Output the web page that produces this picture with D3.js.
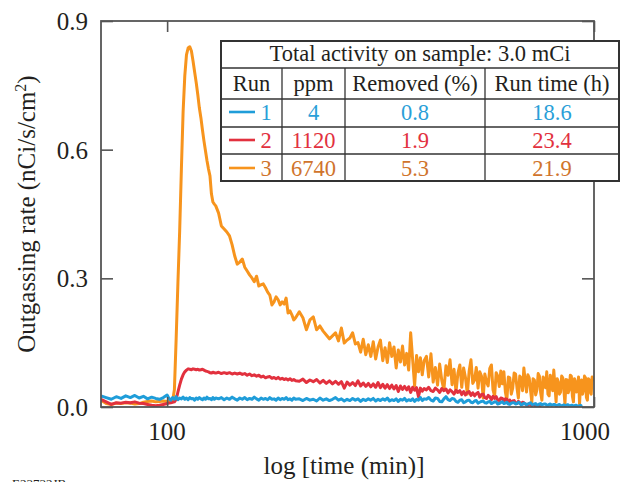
<!DOCTYPE html>
<html lang="en">
<head>
<meta charset="UTF-8"/>
<title>Outgassing rate</title>
<script src="https://d3js.org/d3.v7.min.js"></script>
<style>
  body { margin: 0; background: #fff; }
  text { font-family: "Liberation Serif", "Times New Roman", serif; fill: #231f20; }
</style>
</head>
<body>
<div id="chart"></div>
<script>
// time grid (min), shared by all runs
var times = [
  70, 72, 74, 76, 78, 80, 82, 84, 86, 88, 90, 92, 94, 96, 98, 100,
  101, 102, 103, 104, 105, 106, 107, 108, 109, 110, 111, 112, 113, 114, 115,
  116, 117, 118, 119, 120, 121, 122, 123, 124, 125, 126, 127, 128, 129, 130,
  132, 134, 136, 138, 140, 142, 144, 146, 148, 150, 152, 154, 156, 158, 160,
  162, 164, 166, 168, 170, 172, 174, 176, 178, 180, 182, 184, 186, 188, 190,
  192, 194, 196, 198, 200,
  204, 208, 212, 216, 220, 224, 228, 232, 236, 240, 244, 248, 252, 256, 260,
  264, 268, 272, 276, 280, 284, 288, 292, 296, 300, 304, 308, 312, 316, 320,
  324, 328, 332, 336, 340, 344, 348, 352, 356, 360, 364, 368, 372, 376, 380,
  384, 388, 392, 396, 400,
  405, 410, 415, 420, 425, 430, 435, 440, 445, 450,
  455, 460, 465, 470, 475, 480, 485, 490, 495, 500,
  505, 510, 515, 520, 525, 530, 535, 540, 545, 550,
  555, 560, 565, 570, 575, 580, 585, 590, 595, 600,
  605, 610, 615, 620, 625, 630, 635, 640, 645, 650,
  655, 660, 665, 670, 675, 680, 685, 690, 695, 700,
  705, 710, 715, 720, 725, 730, 735, 740, 745, 750,
  755, 760, 765, 770, 775, 780, 785, 790, 795, 800,
  805, 810, 815, 820, 825, 830, 835, 840, 845, 850,
  855, 860, 865, 870, 875, 880, 885, 890, 895, 900,
  905, 910, 915, 920, 925, 930, 935, 940, 945, 950,
  955, 960, 965, 970, 975, 980, 985, 990, 995, 1000
];

// run 1 (4 ppm), ends ~940 min
var run1 = [
  0.026, 0.022, 0.018, 0.024, 0.020, 0.026, 0.022, 0.027, 0.021, 0.025, 0.019, 0.023, 0.020, 0.018, 0.022, 0.028,
  0.020, 0.016, 0.022, 0.018, 0.024, 0.017, 0.021, 0.019, 0.023, 0.018, 0.021, 0.017, 0.022, 0.019, 0.020,
  0.016, 0.021, 0.018, 0.022, 0.019, 0.017, 0.021, 0.018, 0.023, 0.019, 0.020, 0.017, 0.022, 0.018, 0.021,
  0.019, 0.022, 0.017, 0.021, 0.018, 0.023, 0.019, 0.016, 0.021, 0.018, 0.022, 0.017, 0.020, 0.018, 0.023,
  0.019, 0.016, 0.021, 0.018, 0.020, 0.017, 0.022, 0.018, 0.019, 0.016, 0.021, 0.017, 0.020, 0.018, 0.022,
  0.017, 0.019, 0.016, 0.021, 0.018,
  0.019, 0.015, 0.020, 0.016, 0.018, 0.014, 0.021, 0.016, 0.019, 0.015, 0.018, 0.022, 0.016, 0.019, 0.014,
  0.018, 0.015, 0.020, 0.016, 0.019, 0.013, 0.018, 0.015, 0.019, 0.016, 0.020, 0.014, 0.018, 0.015, 0.019,
  0.016, 0.021, 0.014, 0.017, 0.015, 0.019, 0.013, 0.018, 0.016, 0.020, 0.014, 0.017, 0.015, 0.019, 0.013,
  0.018, 0.016, 0.022, 0.015, 0.019,
  0.018, 0.022, 0.016, 0.014, 0.021, 0.020, 0.013, 0.012, 0.019, 0.024,
  0.017, 0.015, 0.020, 0.019, 0.013, 0.011, 0.016, 0.017, 0.010, 0.012,
  0.015, 0.016, 0.011, 0.010, 0.014, 0.015, 0.009, 0.011, 0.013, 0.014,
  0.010, 0.009, 0.012, 0.013, 0.008, 0.010, 0.012, 0.012, 0.007, 0.008,
  0.011, 0.012, 0.008, 0.009, 0.011, 0.007, 0.006, 0.009, 0.010, 0.010,
  0.007, 0.008, 0.011, 0.009, 0.005, 0.006, 0.009, 0.008, 0.005, 0.007,
  0.008, 0.010, 0.006, 0.006, 0.007, 0.008, 0.004, 0.005, 0.007, 0.008,
  0.005, 0.006, 0.007, 0.007, 0.004, 0.004, 0.006, 0.007, 0.004, 0.005,
  0.006, 0.006, 0.003, 0.004, 0.005, 0.006, 0.003, 0.003, 0.004, 0.005,
  0.003, 0.004, 0.005, 0.005, 0.002, 0.003, 0.004, 0.004, 0.002, 0.003,
  0.004, 0.004, 0.002, 0.002, 0.003, 0.004, 0.002, 0.003
];

// run 2 (1120 ppm), ends ~750 min
var run2 = [
  0.018, 0.012, 0.006, 0.010, 0.009, 0.011, 0.010, 0.012, 0.009, 0.008, 0.006, 0.004, 0.003, 0.004, 0.006, 0.008,
  0.009, 0.010, 0.011, 0.012, 0.018, 0.035, 0.051, 0.065, 0.075, 0.082, 0.086, 0.089, 0.088, 0.087, 0.089,
  0.088, 0.087, 0.088, 0.086, 0.087, 0.088, 0.086, 0.084, 0.083, 0.082, 0.080, 0.079, 0.081, 0.080, 0.079,
  0.081, 0.078, 0.080, 0.078, 0.080, 0.077, 0.079, 0.077, 0.079, 0.076, 0.078, 0.074, 0.077, 0.073, 0.075,
  0.072, 0.074, 0.070, 0.072, 0.068, 0.070, 0.071, 0.067, 0.069, 0.066, 0.069, 0.065, 0.067, 0.064, 0.066,
  0.063, 0.066, 0.062, 0.064, 0.061,
  0.060, 0.065, 0.057, 0.063, 0.059, 0.064, 0.056, 0.062, 0.055, 0.061, 0.054, 0.060, 0.053, 0.059, 0.044,
  0.058, 0.051, 0.057, 0.050, 0.061, 0.049, 0.056, 0.048, 0.055, 0.047, 0.054, 0.046, 0.057, 0.045, 0.053,
  0.044, 0.052, 0.043, 0.051, 0.042, 0.050, 0.036, 0.049, 0.041, 0.048, 0.040, 0.047, 0.034, 0.046, 0.039,
  0.045, 0.024, 0.044, 0.037, 0.043,
  0.040, 0.046, 0.038, 0.036, 0.044, 0.040, 0.034, 0.043, 0.038, 0.042,
  0.033, 0.040, 0.036, 0.030, 0.039, 0.034, 0.038, 0.029, 0.036, 0.028,
  0.034, 0.036, 0.027, 0.033, 0.026, 0.031, 0.034, 0.023, 0.029, 0.030,
  0.022, 0.020, 0.027, 0.024, 0.017, 0.025, 0.020, 0.024, 0.016, 0.015,
  0.021, 0.020, 0.012, 0.019, 0.018, 0.010, 0.016, 0.010, 0.014, 0.015,
  0.009, 0.008, 0.013, 0.010, 0.006, 0.011, 0.010, 0.007, 0.005, 0.004,
  0.008, 0.006, 0.003, 0.006, 0.005, 0.002, 0.004, 0.003, 0.002, 0.004
];

// run 3 (6740 ppm)
var run3 = [
  0.016, 0.008, 0.006, 0.009, 0.008, 0.010, 0.009, 0.007, 0.008, 0.011, 0.013, 0.014, 0.012, 0.013, 0.014, 0.013,
  0.013, 0.012, 0.014, 0.040, 0.160, 0.290, 0.410, 0.555, 0.688, 0.772, 0.821, 0.837, 0.840, 0.830, 0.807,
  0.781, 0.756, 0.728, 0.697, 0.674, 0.646, 0.620, 0.597, 0.574, 0.555, 0.539, 0.497, 0.478, 0.473, 0.469,
  0.452, 0.422, 0.415, 0.408, 0.399, 0.378, 0.352, 0.333, 0.338, 0.345, 0.326, 0.317, 0.308, 0.301, 0.292,
  0.305, 0.282, 0.285, 0.287, 0.278, 0.268, 0.261, 0.238, 0.245, 0.257, 0.250, 0.238, 0.245, 0.240, 0.254,
  0.219, 0.224, 0.215, 0.203, 0.208,
  0.222, 0.208, 0.180, 0.203, 0.210, 0.180, 0.189, 0.177, 0.168, 0.159, 0.166, 0.173, 0.154, 0.184, 0.149,
  0.156, 0.161, 0.173, 0.147, 0.150, 0.128, 0.158, 0.122, 0.145, 0.118, 0.152, 0.112, 0.140, 0.156, 0.108,
  0.138, 0.104, 0.150, 0.118, 0.140, 0.091, 0.133, 0.105, 0.142, 0.098, 0.125, 0.086, 0.173, 0.110, 0.049,
  0.120, 0.082, 0.115, 0.075, 0.108,
  0.118, 0.070, 0.124, 0.058, 0.092, 0.051, 0.100, 0.062, 0.040, 0.096,
  0.074, 0.110, 0.052, 0.088, 0.035, 0.079, 0.098, 0.046, 0.091, 0.068,
  0.030, 0.084, 0.110, 0.055, 0.063, 0.092, 0.044, 0.082, 0.072, 0.021,
  0.077, 0.058, 0.049, 0.090, 0.098, 0.040, 0.026, 0.080, 0.072, 0.048,
  0.084, 0.054, 0.082, 0.035, 0.016, 0.070, 0.068, 0.030, 0.044, 0.079,
  0.077, 0.045, 0.021, 0.072, 0.068, 0.038, 0.091, 0.060, 0.035, 0.075,
  0.068, 0.040, 0.012, 0.066, 0.063, 0.028, 0.040, 0.078, 0.072, 0.033,
  0.016, 0.070, 0.063, 0.045, 0.082, 0.030, 0.026, 0.074, 0.063, 0.038,
  0.086, 0.050, 0.012, 0.066, 0.058, 0.030, 0.035, 0.072, 0.068, 0.040,
  0.007, 0.064, 0.063, 0.033, 0.040, 0.074, 0.072, 0.025, 0.012, 0.066,
  0.058, 0.035, 0.049, 0.070, 0.007, 0.052, 0.063, 0.030, 0.040, 0.072,
  0.068, 0.022, 0.016, 0.066, 0.063, 0.035, 0.030, 0.070, 0.068, 0.060
];

var yTicks = [0.0, 0.3, 0.6, 0.9];
var xTicks = [100, 1000];

// legend table
var tableTitle = "Total activity on sample: 3.0 mCi";
var tableHeads = ["Run", "ppm", "Removed (%)", "Run time (h)"];
var runIds = ["1", "2", "3"];
var ppm = ["4", "1120", "6740"];
var removed = ["0.8", "1.9", "5.3"];
var runTime = ["18.6", "23.4", "21.9"];

var lineColors = ["#1f9dd9", "#e2313e", "#f7941d"];
var textColors = ["#2a9fd8", "#e2313e", "#d0742c"];

var w = 621, h = 482;
var plotL = 101, plotR = 594, plotT = 21, plotB = 407;

var svg = d3.select("#chart").append("svg")
    .attr("width", w)
    .attr("height", h);

var x = d3.scaleLog().domain([70, 1000]).range([plotL, plotR]);
var y = d3.scaleLinear().domain([0, 0.9]).range([plotB, plotT]);

svg.append("clipPath").attr("id", "plotclip")
  .append("rect")
    .attr("x", plotL).attr("y", plotT)
    .attr("width", plotR - plotL).attr("height", plotB - plotT);

var line = d3.line()
    .x(function(d) { return x(d[0]); })
    .y(function(d) { return y(d[1]); });

var runs = [run3, run2, run1];
var runColors = [lineColors[2], lineColors[1], lineColors[0]];

var plot = svg.append("g").attr("clip-path", "url(#plotclip)");
runs.forEach(function(vals, k) {
  var pts = vals.map(function(v, i) { return [times[i], v]; });
  plot.append("path")
      .datum(pts)
      .attr("fill", "none")
      .attr("stroke", runColors[k])
      .attr("stroke-width", 3)
      .attr("stroke-linejoin", "round")
      .attr("d", line);
});

// axes with inward ticks on all four sides
var tickLen = 12;
var axisColor = "#555";

var gL = svg.append("g").attr("transform", "translate(" + plotL + ",0)")
    .call(d3.axisRight(y).tickValues(yTicks).tickSize(tickLen).tickFormat(""));
var gR = svg.append("g").attr("transform", "translate(" + plotR + ",0)")
    .call(d3.axisLeft(y).tickValues(yTicks).tickSize(tickLen).tickFormat(""));
var gB = svg.append("g").attr("transform", "translate(0," + plotB + ")")
    .call(d3.axisTop(x).tickValues(xTicks).tickSize(tickLen - 2).tickFormat(""));
var gT = svg.append("g").attr("transform", "translate(0," + plotT + ")")
    .call(d3.axisBottom(x).tickValues(xTicks).tickSize(tickLen - 1).tickFormat(""));

[gL, gR, gB, gT].forEach(function(g) {
  g.select(".domain").remove();
  g.selectAll("line").attr("stroke", axisColor).attr("stroke-width", 1.6);
});

svg.append("rect")
    .attr("x", plotL).attr("y", plotT)
    .attr("width", plotR - plotL).attr("height", plotB - plotT)
    .attr("fill", "none")
    .attr("stroke", axisColor)
    .attr("stroke-width", 1.8);

// tick labels
svg.selectAll(".ylab")
  .data(yTicks)
  .enter().append("text")
    .attr("x", 88)
    .attr("y", function(d) { return y(d) + 9; })
    .attr("text-anchor", "end")
    .attr("font-size", "25px")
    .text(function(d) { return d.toFixed(1); });

svg.selectAll(".xlab")
  .data(xTicks)
  .enter().append("text")
    .attr("x", function(d) { return d === 1000 ? x(d) - 9 : x(d); })
    .attr("y", 440)
    .attr("text-anchor", "middle")
    .attr("font-size", "25px")
    .text(function(d) { return d; });

// axis titles
svg.append("text")
    .attr("x", 344)
    .attr("y", 474)
    .attr("text-anchor", "middle")
    .attr("font-size", "25px")
    .text("log [time (min)]");

var yt = svg.append("text")
    .attr("transform", "translate(35,214) rotate(-90)")
    .attr("text-anchor", "middle")
    .attr("font-size", "25px");
yt.append("tspan").text("Outgassing rate (nCi/s/cm");
yt.append("tspan").attr("dy", -9).attr("font-size", "16px").text("2");
yt.append("tspan").attr("dy", 9).text(")");

svg.append("text")
    .attr("x", 12)
    .attr("y", 488)
    .attr("font-family", "Liberation Sans, sans-serif")
    .attr("font-size", "13px")
    .text("E23732JB");

// legend table
var tx = [221, 282, 345, 485, 619];
var ty = [41, 68, 99, 127, 154, 181];
var tbl = svg.append("g");

tbl.append("rect")
    .attr("x", tx[0]).attr("y", ty[0])
    .attr("width", tx[4] - tx[0]).attr("height", ty[5] - ty[0])
    .attr("fill", "#fff");

ty.slice(1, 5).forEach(function(yy) {
  tbl.append("line")
      .attr("x1", tx[0]).attr("x2", tx[4])
      .attr("y1", yy).attr("y2", yy)
      .attr("stroke", "#333").attr("stroke-width", 1.3);
});
tx.slice(1, 4).forEach(function(xx) {
  tbl.append("line")
      .attr("x1", xx).attr("x2", xx)
      .attr("y1", ty[1]).attr("y2", ty[5])
      .attr("stroke", "#333").attr("stroke-width", 1.3);
});
tbl.append("rect")
    .attr("x", tx[0]).attr("y", ty[0])
    .attr("width", tx[4] - tx[0]).attr("height", ty[5] - ty[0])
    .attr("fill", "none")
    .attr("stroke", "#333").attr("stroke-width", 2);

tbl.append("text")
    .attr("x", (tx[0] + tx[4]) / 2)
    .attr("y", 61)
    .attr("text-anchor", "middle")
    .attr("font-size", "22.5px")
    .text(tableTitle);

tableHeads.forEach(function(s, j) {
  tbl.append("text")
      .attr("x", (tx[j] + tx[j + 1]) / 2)
      .attr("y", 91)
      .attr("text-anchor", "middle")
      .attr("font-size", "22.5px")
      .text(s);
});

var baseY = [120, 148, 176];
runIds.forEach(function(id, i) {
  var by = baseY[i];
  tbl.append("line")
      .attr("x1", 229).attr("x2", 255)
      .attr("y1", by - 8).attr("y2", by - 8)
      .attr("stroke", lineColors[i]).attr("stroke-width", 2.6);
  tbl.append("text")
      .attr("x", 266).attr("y", by)
      .attr("text-anchor", "middle")
      .attr("font-size", "22.5px")
      .style("fill", textColors[i])
      .text(id);
  [ppm[i], removed[i], runTime[i]].forEach(function(s, j) {
    tbl.append("text")
        .attr("x", (tx[j + 1] + tx[j + 2]) / 2)
        .attr("y", by)
        .attr("text-anchor", "middle")
        .attr("font-size", "22.5px")
        .style("fill", textColors[i])
        .text(s);
  });
});
</script>
</body>
</html>
